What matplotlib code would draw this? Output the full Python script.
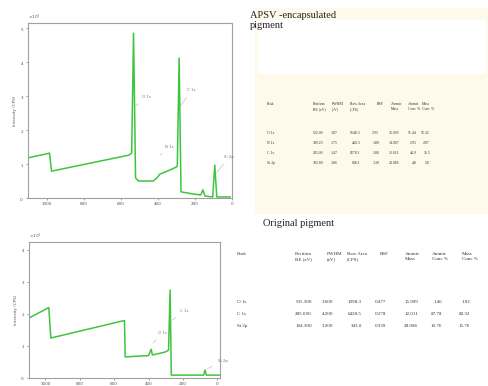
"""XPS survey spectra with quantification tables: APSV-encapsulated vs original pigment."""

import matplotlib

matplotlib.use("Agg")
import matplotlib.pyplot as plt  # noqa: E402
from matplotlib.patches import Rectangle  # noqa: E402
from matplotlib.ticker import MultipleLocator, ScalarFormatter  # noqa: E402

W, H = 488, 386

# APSV-encapsulated pigment survey (binding energy eV, counts/s)
apsv_be = [1100, 984, 973, 557, 541, 531, 520, 504, 424, 400, 390, 371, 312, 295,
           285, 275, 211, 168, 157, 146, 104, 93, 82, 10]
apsv_cps = [11800, 13200, 7900, 12600, 13200, 48500, 5900, 5000, 5000, 6200, 7000,
            7400, 8800, 9300, 41200, 1800, 1200, 900, 2400, 600, 300, 9700, 300, 300]
apsv_peaks = ["O 1s", "N 1s", "C 1s", "Si 2p"]
apsv_peak_be = [531, 399, 285, 93]
apsv_mark_cps = [26500, 12000, 26500, 6800]

# original pigment survey
orig_be = [1093, 980, 968, 554, 540, 536, 400, 385, 378, 304, 284, 275, 268, 80, 72,
           64, -15]
orig_cps = [18800, 22000, 12500, 17800, 17900, 6600, 7000, 9000, 7200, 8100, 8700,
            27500, 900, 900, 2500, 900, 900]
orig_peaks = ["O 1s", "C 1s", "Si 2p"]
orig_peak_be = [385, 275, 72]
orig_mark_cps = [10300, 17500, 2500]

# quantification tables
headers = ["Position\nBE (eV)", "FWHM\n(eV)", "Raw Area\n(CPS)", "RSF",
           "Atomic\nMass", "Atomic\nConc %", "Mass\nConc %"]
apsv_rows = ["O 1s", "N 1s", "C 1s", "Si 2p"]
apsv_vals = [
    ["532.00", "1.87", "9648.3", "2.93", "15.999", "51.44", "56.32"],
    ["399.20", "1.75", "460.3", "1.80", "14.007", "2.93", "2.87"],
    ["285.00", "1.47", "8270.1", "1.00", "12.011", "40.9", "35.5"],
    ["102.80", "1.86", "698.1", "1.30", "28.086", "4.8", "5.8"],
]
orig_rows = ["O 1s", "C 1s", "Si 2p"]
orig_vals = [
    ["535.300", "3.600", "1098.3", "0.477", "15.999", "1.46", "1.92"],
    ["285.000", "4.200", "6428.5", "0.278", "12.011", "87.78", "82.32"],
    ["104.300", "3.200", "343.0", "0.339", "28.086", "10.76", "15.76"],
]


def fx(px):
    return px / W


def fy(py):
    return 1 - py / H


def survey(ax, be, cps, peaks, peak_be, mark_cps, xlim, ylim, offsets):
    ax.plot(be, cps, color="#3fc43f", lw=1.1)
    for name, x, y, off in zip(peaks, peak_be, mark_cps, offsets):
        ax.annotate(name, xy=(x, y), xytext=off, textcoords="offset points",
                    fontsize=2.8, color="#777777",
                    arrowprops=dict(arrowstyle="-", color="#999999", lw=0.3))
    ax.set_xlim(*xlim)
    ax.set_ylim(*ylim)
    ax.set_xticks([1000, 800, 600, 400, 200, 0])
    ax.yaxis.set_major_locator(MultipleLocator(10000))
    fmt = ScalarFormatter(useMathText=True)
    fmt.set_powerlimits((0, 0))
    ax.yaxis.set_major_formatter(fmt)
    ax.yaxis.get_offset_text().set_fontsize(3)
    ax.tick_params(labelsize=3, colors="#555555", length=1.5, width=0.4, pad=1.5)
    ax.set_ylabel("Intensity (CPS)", fontsize=3, color="#555555", labelpad=2)
    for s in ax.spines.values():
        s.set_color("#a0a0a0")
        s.set_linewidth(0.8)


def table(fig, title, rows, vals, x_peak, x_head, x_val, y_title, y_head, y_rows, fs, tfs):
    serif = "Liberation Serif"
    fig.text(fx(x_peak[0]), fy(y_title), title, fontsize=tfs, family=serif,
             va="top", ha="left", color="#222222", linespacing=1.1)
    fig.text(fx(x_peak[1]), fy(y_head), "Peak", fontsize=fs, family=serif, va="top",
             color="#333333")
    for h, x in zip(headers, x_head):
        fig.text(fx(x), fy(y_head), h, fontsize=fs, family=serif, va="top",
                 ha="left", color="#333333", linespacing=1.3)
    for r, row_vals, y in zip(rows, vals, y_rows):
        fig.text(fx(x_peak[1]), fy(y), r, fontsize=fs, family=serif, va="top",
                 color="#333333")
        for v, x in zip(row_vals, x_val):
            fig.text(fx(x), fy(y), v, fontsize=fs, family=serif, va="top",
                     ha="right", color="#333333")


fig = plt.figure(figsize=(W / 100, H / 100), dpi=100)

fig.patches.append(Rectangle((fx(255), fy(213)), fx(488 - 255), (213 - 8) / H,
                             transform=fig.transFigure, color="#fdfaeb", zorder=0))
fig.patches.append(Rectangle((fx(258), fy(73)), fx(485 - 258), (73 - 20) / H,
                             transform=fig.transFigure, color="white", zorder=0))

ax1 = fig.add_axes([fx(28), fy(198), fx(232 - 28), (198 - 23) / H])
survey(ax1, apsv_be, apsv_cps, apsv_peaks, apsv_peak_be, apsv_mark_cps,
       (1100, 10), (0, 51500), [(6, 7), (5, 7), (6, 12), (7, 12)])

ax2 = fig.add_axes([fx(29), fy(378), fx(220 - 29), (378 - 242) / H])
survey(ax2, orig_be, orig_cps, orig_peaks, orig_peak_be, orig_mark_cps,
       (1095, -15), (0, 42500), [(5, 8), (7, 7), (9, 6)])

table(fig, "APSV -encapsulated\npigment", apsv_rows, apsv_vals, (250, 267),
      [313, 332, 350, 377, 391, 408, 422], [323, 338, 361, 379, 399, 417, 430],
      11, 102, [131, 141, 151, 161], 2.8, 7.5)
table(fig, "Original pigment", orig_rows, orig_vals, (263, 237),
      [295, 327, 347, 380, 405, 432, 462], [312, 333, 362, 386, 418, 442, 470],
      219, 252, [300, 312, 324], 3.6, 7.5)

fig.savefig("out.png", dpi=100)
plt.close(fig)
